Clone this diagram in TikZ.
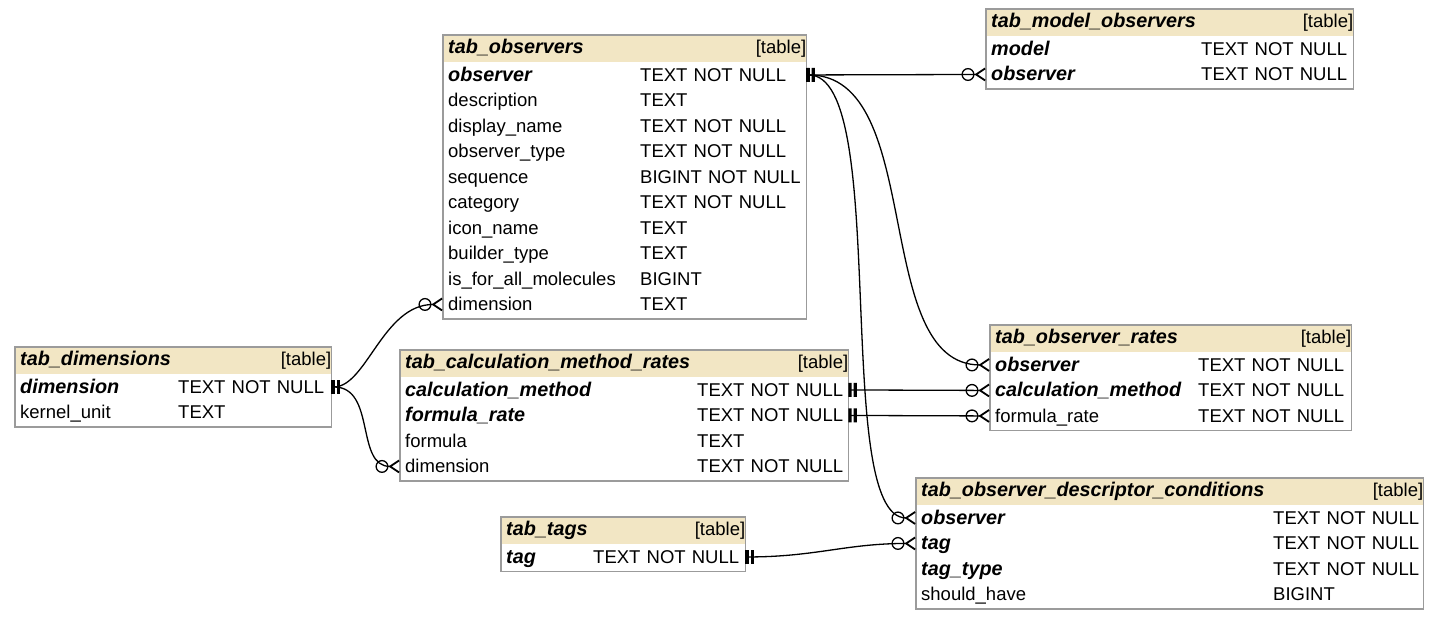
\documentclass[tikz,border=0pt]{standalone}
\usepackage{fontspec}
\setmainfont{Liberation Sans}
\usetikzlibrary{arrows.meta,positioning}
\definecolor{headfill}{RGB}{242,230,196}
\definecolor{tabline}{RGB}{155,155,155}
\newcommand{\keyf}[1]{{\fontsize{19.8pt}{20pt}\selectfont\textbf{\textit{#1}}}}

\tikzset{
  onebar/.tip={Bar[width=14pt,line width=3.2pt,sep=2pt] Bar[width=14pt,line width=3.2pt]},
  crowfoot/.tip={Circle[open,length=13pt,width=13pt,sep=0pt] Straight Barb[reversed,length=9pt,width=12pt,line width=1.8pt]},
  tabhead/.style={anchor=north west,fill=headfill,minimum height=27pt,inner sep=0pt,
    text width=#1pt,align=left,text height=14pt,text depth=4pt},
  tabrow/.style={anchor=north west,minimum height=25.5pt,inner sep=0pt,
    text width=#1pt,align=left,text height=16pt,text depth=3pt},
  tabbox/.style={draw=tabline,line width=1.3pt},
  rel/.style={line width=1.3pt,onebar-crowfoot},
}

\begin{document}
\begin{tikzpicture}[x=1pt,y=-1pt,font=\fontsize{18.5pt}{20pt}\selectfont]
  \useasboundingbox (0,0) rectangle (1440,619);

  % tab_observers
  \node[tabhead=363] (obs-h) at (443,35) {\hspace*{5pt}\keyf{tab\_observers}\hfill[table]\hspace*{3pt}};
  \foreach \fname/\ftype [count=\i] in {\keyf{observer}/TEXT NOT NULL, description/TEXT,
      display\_name/TEXT NOT NULL, observer\_type/TEXT NOT NULL, sequence/BIGINT NOT NULL,
      category/TEXT NOT NULL, icon\_name/TEXT, builder\_type/TEXT,
      is\_for\_all\_molecules/BIGINT, dimension/TEXT}
    \node[tabrow=363] (obs-\i) at (443,{62+25.5*(\i-1)}) {\hspace*{5pt}\makebox[192pt][l]{\fname}\ftype};
  \draw[tabbox] (obs-h.north west) rectangle ([yshift=-1.5pt]obs-10.south east);

  % tab_model_observers
  \node[tabhead=367] (mobs-h) at (986,9) {\hspace*{5pt}\keyf{tab\_model\_observers}\hfill[table]\hspace*{3pt}};
  \foreach \fname/\ftype [count=\i] in {\keyf{model}/TEXT NOT NULL, \keyf{observer}/TEXT NOT NULL}
    \node[tabrow=367] (mobs-\i) at (986,{36+25.5*(\i-1)}) {\hspace*{5pt}\makebox[210pt][l]{\fname}\ftype};
  \draw[tabbox] (mobs-h.north west) rectangle ([yshift=-1.5pt]mobs-2.south east);

  % tab_dimensions
  \node[tabhead=316] (dim-h) at (15,347) {\hspace*{5pt}\keyf{tab\_dimensions}\hfill[table]\hspace*{3pt}};
  \foreach \fname/\ftype [count=\i] in {\keyf{dimension}/TEXT NOT NULL, kernel\_unit/TEXT}
    \node[tabrow=316] (dim-\i) at (15,{374+25.5*(\i-1)}) {\hspace*{5pt}\makebox[158pt][l]{\fname}\ftype};
  \draw[tabbox] (dim-h.north west) rectangle ([yshift=-1.5pt]dim-2.south east);

  % tab_calculation_method_rates
  \node[tabhead=448] (cmr-h) at (400,350) {\hspace*{5pt}\keyf{tab\_calculation\_method\_rates}\hfill[table]\hspace*{3pt}};
  \foreach \fname/\ftype [count=\i] in {\keyf{calculation\_method}/TEXT NOT NULL,
      \keyf{formula\_rate}/TEXT NOT NULL, formula/TEXT, dimension/TEXT NOT NULL}
    \node[tabrow=448] (cmr-\i) at (400,{377+25.5*(\i-1)}) {\hspace*{5pt}\makebox[292pt][l]{\fname}\ftype};
  \draw[tabbox] (cmr-h.north west) rectangle ([yshift=-1.5pt]cmr-4.south east);

  % tab_observer_rates
  \node[tabhead=361] (orat-h) at (990,325) {\hspace*{5pt}\keyf{tab\_observer\_rates}\hfill[table]\hspace*{3pt}};
  \foreach \fname/\ftype [count=\i] in {\keyf{observer}/TEXT NOT NULL,
      \keyf{calculation\_method}/TEXT NOT NULL, formula\_rate/TEXT NOT NULL}
    \node[tabrow=361] (orat-\i) at (990,{352+25.5*(\i-1)}) {\hspace*{5pt}\makebox[203pt][l]{\fname}\ftype};
  \draw[tabbox] (orat-h.north west) rectangle ([yshift=-1.5pt]orat-3.south east);

  % tab_observer_descriptor_conditions
  \node[tabhead=507] (odc-h) at (916,478) {\hspace*{5pt}\keyf{tab\_observer\_descriptor\_conditions}\hfill[table]\hspace*{3pt}};
  \foreach \fname/\ftype [count=\i] in {\keyf{observer}/TEXT NOT NULL, \keyf{tag}/TEXT NOT NULL,
      \keyf{tag\_type}/TEXT NOT NULL, should\_have/BIGINT}
    \node[tabrow=507] (odc-\i) at (916,{505+25.5*(\i-1)}) {\hspace*{5pt}\makebox[352pt][l]{\fname}\ftype};
  \draw[tabbox] (odc-h.north west) rectangle ([yshift=-1.5pt]odc-4.south east);

  % tab_tags
  \node[tabhead=244] (tags-h) at (501,517) {\hspace*{5pt}\keyf{tab\_tags}\hfill[table]\hspace*{3pt}};
  \node[tabrow=244] (tags-1) at (501,544) {\hspace*{5pt}\makebox[87pt][l]{\keyf{tag}}TEXT NOT NULL};
  \draw[tabbox] (tags-h.north west) rectangle ([yshift=-1.5pt]tags-1.south east);

  % relations
  \draw[rel] (obs-1.east) -- (mobs-2.west);
  \draw[rel] (obs-1.east) .. controls +(120,0) and +(-120,0) .. (orat-1.west);
  \draw[rel] (obs-1.east) .. controls +(85,0) and +(-85,0) .. (odc-1.west);
  \draw[rel] (dim-1.east) .. controls +(35,0) and +(-60,0) .. (obs-10.west);
  \draw[rel] (dim-1.east) .. controls +(45,0) and +(-45,0) .. (cmr-4.west);
  \draw[rel] (cmr-1.east) -- (orat-2.west);
  \draw[rel] (cmr-2.east) -- (orat-3.west);
  \draw[rel] (tags-1.east) .. controls +(70,0) and +(-70,0) .. (odc-2.west);
\end{tikzpicture}
\end{document}
